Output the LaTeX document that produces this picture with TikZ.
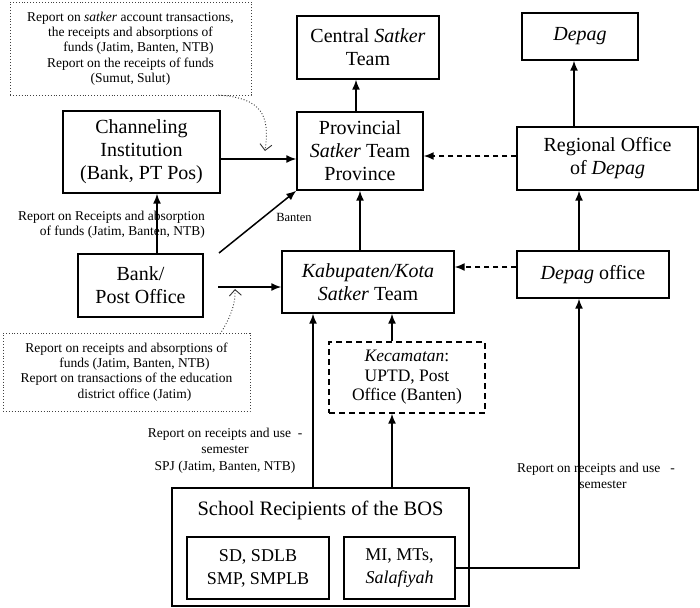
\documentclass[tikz,border=0pt]{standalone}
\usepackage{fontspec}
\setmainfont{Liberation Serif}
\usetikzlibrary{arrows.meta,calc}
\begin{document}
\begin{tikzpicture}[x=1pt,y=-1pt,
  box/.style={draw, line width=1.4pt, align=center, inner sep=0pt, font=\fontsize{20}{23}\selectfont},
  dbox/.style={box, dash pattern=on 6pt off 4pt, font=\fontsize{17.5}{19.5}\selectfont},
  note/.style={draw=black!75, dotted, line width=0.9pt, align=center, inner sep=0pt, font=\fontsize{13.5}{15.3}\selectfont},
  lbl/.style={align=center, inner sep=0pt, font=\fontsize{13.5}{16}\selectfont},
  arr/.style={line width=1.5pt, -{Latex[length=10pt,width=8pt]}},
  darr/.style={arr, dash pattern=on 5pt off 4pt},
  curv/.style={dotted, line width=0.9pt, draw=black!80, -{Straight Barb[length=6pt,width=12pt,line width=0.9pt]}}
]
\useasboundingbox[fill=white] (0,0) rectangle (700,607);

% nodes
\node[note, minimum width=241pt, minimum height=93pt] (n1) at (130.5,48.5)
  {Report on \textit{satker} account transactions,\\
   the receipts and absorptions of\\
   \hspace{16pt}funds (Jatim, Banten, NTB)\\
   Report on the receipts of funds\\
   (Sumut, Sulut)};
\node[box, minimum width=157pt, minimum height=82pt] (chan) at (141.5,152)
  {Channeling\\Institution\\(Bank, PT Pos)};
\node[box, minimum width=142pt, minimum height=63pt] (central) at (368,47.5)
  {Central \textit{Satker}\\Team};
\node[box, minimum width=126pt, minimum height=78pt] (prov) at (360,151)
  {Provincial\\\textit{Satker} Team\\Province};
\node[box, minimum width=116pt, minimum height=47pt] (depag) at (580,36.5)
  {\textit{Depag}};
\node[box, minimum width=181pt, minimum height=63pt] (reg) at (607.5,158.5)
  {Regional Office\\of \textit{Depag}};
\node[box, minimum width=125pt, minimum height=63pt] (bank) at (140.5,285.5)
  {Bank/\\Post Office};
\node[box, minimum width=172pt, minimum height=62pt] (kab) at (368,282)
  {\textit{Kabupaten/Kota}\\\textit{Satker} Team};
\node[box, minimum width=152pt, minimum height=47pt] (depoff) at (593,274.5)
  {\textit{Depag} office};
\node[note, minimum width=247pt, minimum height=78pt] (n2) at (126.5,372)
  {Report on receipts and absorptions of\\
   \hspace{16pt}funds (Jatim, Banten, NTB)\\
   Report on transactions of the education\\
   \hspace{16pt}district office (Jatim)};
\node[dbox, minimum width=156pt, minimum height=71pt] (kec) at (407,377.5)
  {\textit{Kecamatan}:\\UPTD, Post\\Office (Banten)};
\node[box, minimum width=297pt, minimum height=118pt] (school) at (320.5,547) {};
\node[inner sep=0pt, font=\fontsize{20.5}{23}\selectfont] (stitle) at (320.5,510) {School Recipients of the BOS};
\node[box, minimum width=142pt, minimum height=62pt, font=\fontsize{18}{23}\selectfont] (sd) at (258,568)
  {SD, SDLB\\SMP, SMPLB};
\node[box, minimum width=111pt, minimum height=62pt, font=\fontsize{18}{23}\selectfont] (mi) at (399.5,568)
  {MI, MTs,\\\textit{Salafiyah}};

% labels
\node[lbl, align=right, anchor=east, font=\fontsize{13.5}{15}\selectfont] (l1) at (205,224.5)
  {Report on Receipts and absorption\\of funds (Jatim, Banten, NTB)};
\node[inner sep=0pt, font=\fontsize{12.5}{14}\selectfont] (l2) at (294,217) {Banten};
\node[lbl, font=\fontsize{13.5}{16.5}\selectfont] (l3) at (225,450.5)
  {Report on receipts and use\ \ -\\semester\\SPJ (Jatim, Banten, NTB)};
\node[lbl] (l4) at (596,476)
  {Report on receipts and use\ \ \ -\\\hspace{14pt}semester};

% helper positions
\coordinate (x157) at (157,0);
\coordinate (x313) at (313,0);
\coordinate (x356) at (356,0);
\coordinate (x392) at (392,0);
\coordinate (x574) at (574,0);
\coordinate (x579) at (579,0);
\coordinate (y156) at (0,156);
\coordinate (y159) at (0,159);
\coordinate (y267) at (0,267);
\coordinate (bs1) at (219,253);
\coordinate (bs2) at (218,287);
\coordinate (c1s) at (218,95);
\coordinate (c1e) at (265,151);
\coordinate (c2s) at (220,334);
\coordinate (c2e) at (235,289);

% connectors
\draw[arr] (prov.north -| x356) -- (central.south -| x356);
\draw[arr] (reg.north -| x574) -- (depag.south -| x574);
\draw[darr] (reg.west |- y156) -- (prov.east |- y156);
\draw[arr] (kab.north -| prov.south) -- (prov.south);
\draw[arr] (depoff.north -| x579) -- (reg.south -| x579);
\draw[darr] (depoff.west |- y267) -- (kab.east |- y267);
\draw[arr] (chan.east |- y159) -- (prov.west |- y159);
\draw[arr] (bank.north -| x157) -- (chan.south -| x157);
\draw[arr] (bs1) -- (prov.south west);
\draw[arr] (bs2) -- (kab.west |- bs2);
\draw[arr] (kec.north -| x392) -- (kab.south -| x392);
\draw[arr] (school.north -| x392) -- (kec.south -| x392);
\draw[arr] (school.north -| x313) -- (kab.south -| x313);
\draw[arr] (mi.east) -| (depoff.south -| x579);

% dotted curved callouts
\draw[curv] (c1s) .. controls (262,98) and (270,115) .. (c1e);
\draw[curv] (c2s) .. controls (228,322) and (236,305) .. (c2e);
\end{tikzpicture}
\end{document}
